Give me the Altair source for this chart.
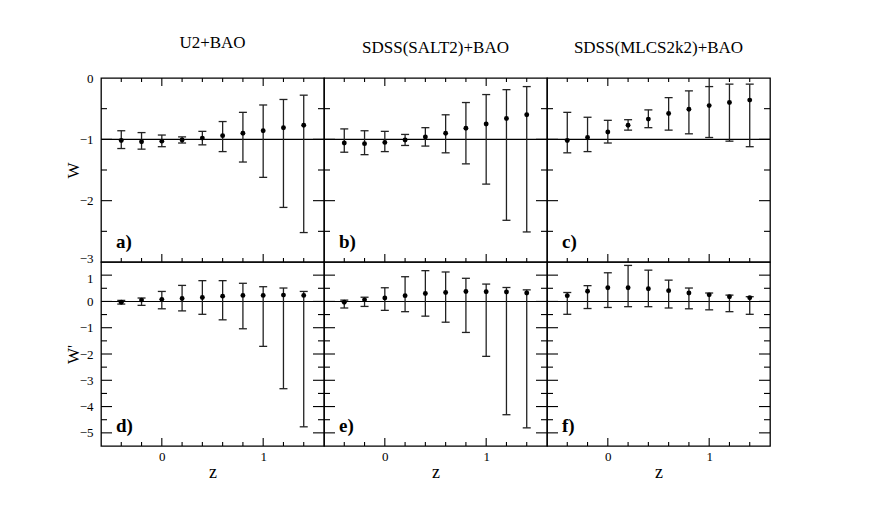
import altair as alt
import pandas as pd

FONT = "Liberation Serif"

Z = [-0.4, -0.2, 0.0, 0.2, 0.4, 0.6, 0.8, 1.0, 1.2, 1.4]

# top row: w
W_U2_MID = [-1.02, -1.04, -1.03, -1.01, -0.98, -0.94, -0.90, -0.86, -0.81, -0.77]
W_U2_HI = [-0.86, -0.89, -0.93, -0.96, -0.87, -0.71, -0.56, -0.44, -0.35, -0.28]
W_U2_LO = [-1.15, -1.16, -1.12, -1.06, -1.09, -1.20, -1.37, -1.62, -2.11, -2.52]

W_SALT_MID = [-1.06, -1.07, -1.05, -1.01, -0.96, -0.90, -0.82, -0.75, -0.66, -0.60]
W_SALT_HI = [-0.83, -0.86, -0.87, -0.92, -0.81, -0.60, -0.40, -0.27, -0.19, -0.14]
W_SALT_LO = [-1.21, -1.25, -1.20, -1.10, -1.11, -1.22, -1.40, -1.73, -2.32, -2.51]

W_MLCS_MID = [-1.02, -0.97, -0.88, -0.77, -0.67, -0.58, -0.51, -0.45, -0.40, -0.36]
W_MLCS_HI = [-0.56, -0.64, -0.69, -0.68, -0.52, -0.32, -0.21, -0.14, -0.10, -0.10]
W_MLCS_LO = [-1.22, -1.20, -1.06, -0.85, -0.81, -0.85, -0.91, -0.97, -1.03, -1.12]

# bottom row: w'
WP_U2_MID = [-0.03, 0.05, 0.08, 0.11, 0.15, 0.20, 0.23, 0.23, 0.24, 0.23]
WP_U2_HI = [0.04, 0.13, 0.38, 0.61, 0.79, 0.79, 0.69, 0.56, 0.51, 0.38]
WP_U2_LO = [-0.10, -0.15, -0.28, -0.36, -0.49, -0.70, -1.04, -1.71, -3.32, -4.77]

WP_SALT_MID = [-0.03, 0.06, 0.13, 0.22, 0.30, 0.34, 0.38, 0.37, 0.36, 0.32]
WP_SALT_HI = [0.05, 0.16, 0.52, 0.94, 1.17, 1.12, 0.88, 0.66, 0.53, 0.44]
WP_SALT_LO = [-0.25, -0.19, -0.34, -0.39, -0.56, -0.79, -1.18, -2.09, -4.31, -4.81]

WP_MLCS_MID = [0.22, 0.39, 0.52, 0.52, 0.48, 0.41, 0.32, 0.25, 0.18, 0.14]
WP_MLCS_HI = [0.34, 0.60, 1.09, 1.37, 1.19, 0.81, 0.51, 0.32, 0.24, 0.18]
WP_MLCS_LO = [-0.49, -0.27, -0.23, -0.20, -0.20, -0.25, -0.28, -0.32, -0.39, -0.49]

TITLES = ["U2+BAO", "SDSS(SALT2)+BAO", "SDSS(MLCS2k2)+BAO"]
LABELS = ["a)", "b)", "c)", "d)", "e)", "f)"]

X_MAJOR = [0.0, 1.0]
X_MINOR = [-0.4, -0.2, 0.2, 0.4, 0.6, 0.8, 1.2, 1.4]
Y_TOP_LABELS = [0, -1, -2, -3]
Y_TOP_MAJOR = [-1, -2]
Y_TOP_MINOR = [-0.5, -1.5, -2.5]
Y_BOT_LABELS = [1, 0, -1, -2, -3, -4, -5]
Y_BOT_MINOR = [0.5, -0.5, -1.5, -2.5, -3.5, -4.5]

W, H = 223, 184
BIG, SMALL = 11, 6
XBIG, XSMALL = 8, 4


def panel(mid, hi, lo, label, row, col):
    if row == 0:
        ydom, ref = [-3, 0], -1
        ymaj, ymin, yvals, ytitle = Y_TOP_MAJOR, Y_TOP_MINOR, Y_TOP_LABELS, "W"
        loff = {"condition": {"test": "datum.value == -3", "value": -4}, "value": 0}
    else:
        ydom, ref = [-5.5, 1.5], 0
        ymaj, ymin, yvals, ytitle = Y_BOT_LABELS, Y_BOT_MINOR, Y_BOT_LABELS, "W'"
        loff = {"condition": {"test": "datum.value == 1", "value": 3}, "value": 0}
    yscale = alt.Scale(domain=ydom, nice=False, zero=False)
    xscale = alt.Scale(domain=[-0.6, 1.6], nice=False, zero=False)
    if col == 0:
        yaxis = alt.Axis(values=yvals, ticks=False, domain=False, grid=False,
                         labelPadding=8, title=ytitle, titlePadding=-3,
                         labelFont=FONT, labelFontSize=13, titleFont=FONT,
                         titleFontSize=17, titleFontWeight="normal",
                         labelColor="black", titleColor="black", format="d",
                         labelOffset=loff)
    else:
        yaxis = None
    if row == 1:
        xaxis = alt.Axis(values=X_MAJOR, ticks=False, domain=False, grid=False,
                         labelPadding=4, title="z", titlePadding=0,
                         labelFont=FONT, labelFontSize=13, titleFont=FONT,
                         titleFontSize=18, titleFontWeight="normal",
                         labelColor="black", titleColor="black", format="d")
    else:
        xaxis = None

    def Y(f):
        return alt.Y(f, type="quantitative", scale=yscale, axis=yaxis)

    def X(f):
        return alt.X(f, type="quantitative", scale=xscale, axis=xaxis)

    df = pd.DataFrame({"z": Z, "mid": mid, "hi": hi, "lo": lo})
    layers = []
    layers.append(alt.Chart(pd.DataFrame({"ref": [ref]})).mark_rule(
        color="black", strokeWidth=1.1).encode(y=Y("ref")))

    def yticks(vals, length):
        d = pd.DataFrame({"v": vals})
        left = alt.Chart(d).mark_rule(color="black", strokeWidth=1.1).encode(
            y=Y("v"), x=alt.value(0), x2=alt.value(length))
        right = alt.Chart(d).mark_rule(color="black", strokeWidth=1.1).encode(
            y=Y("v"), x=alt.value(W - length), x2=alt.value(W))
        return [left, right]

    def xticks(vals, length):
        d = pd.DataFrame({"v": vals})
        out = [alt.Chart(d).mark_rule(color="black", strokeWidth=1.1).encode(
            x=X("v"), y=alt.value(H - length), y2=alt.value(H))]
        if row == 0:
            out.append(alt.Chart(d).mark_rule(color="black", strokeWidth=1.1).encode(
                x=X("v"), y=alt.value(0), y2=alt.value(length)))
        return out

    layers += yticks(ymaj, BIG) + yticks(ymin, SMALL)
    layers += xticks(X_MAJOR, XBIG) + xticks(X_MINOR, XSMALL)

    base = alt.Chart(df)
    layers.append(base.mark_rule(color="#222222", strokeWidth=1.3).encode(
        x=X("z"), y=Y("lo"), y2="hi"))
    layers.append(base.mark_tick(orient="horizontal", size=8, thickness=1.3,
                                 color="#222222", opacity=1).encode(x=X("z"), y=Y("hi")))
    layers.append(base.mark_tick(orient="horizontal", size=8, thickness=1.3,
                                 color="#222222", opacity=1).encode(x=X("z"), y=Y("lo")))
    layers.append(base.mark_circle(size=24, color="black", opacity=1).encode(
        x=X("z"), y=Y("mid")))
    layers.append(alt.Chart(pd.DataFrame({"t": [label]})).mark_text(
        align="left", baseline="alphabetic", font=FONT, fontSize=19,
        fontWeight="bold", color="black").encode(
        x=alt.value(15), y=alt.value(H - 14), text="t:N"))

    props = dict(width=W, height=H)
    if row == 0:
        props["title"] = alt.TitleParams(TITLES[col], font=FONT, fontSize=17,
                                         fontWeight="normal", color="black",
                                         offset=20, anchor="middle")
    return alt.layer(*layers).properties(**props)


DATA = [
    (W_U2_MID, W_U2_HI, W_U2_LO),
    (W_SALT_MID, W_SALT_HI, W_SALT_LO),
    (W_MLCS_MID, W_MLCS_HI, W_MLCS_LO),
    (WP_U2_MID, WP_U2_HI, WP_U2_LO),
    (WP_SALT_MID, WP_SALT_HI, WP_SALT_LO),
    (WP_MLCS_MID, WP_MLCS_HI, WP_MLCS_LO),
]

panels = []
for i, (m, h, l) in enumerate(DATA):
    panels.append(panel(m, h, l, LABELS[i], i // 3, i % 3))

chart = alt.concat(*panels, columns=3, spacing=0, bounds="flush").properties(
    padding={"left": 55, "top": 25, "right": 5, "bottom": 5}
).configure_view(stroke="black", strokeWidth=1.3).configure_axis(
    labelFont=FONT, titleFont=FONT
).configure_text(font=FONT).configure_title(font=FONT)

chart.save("out.html", embed_options={"renderer": "svg", "actions": False})
